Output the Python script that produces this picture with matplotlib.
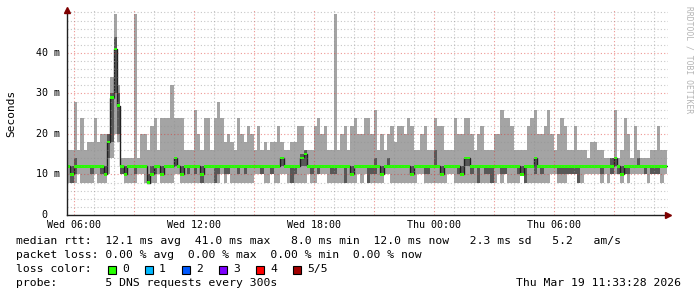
import numpy as np
import matplotlib
matplotlib.use("Agg")
import matplotlib.pyplot as plt
from matplotlib.patches import Rectangle

W, H = 697, 297
START_H = 5.65      # 05:39 Wed, hours after Wed 00:00
STEP_H = 1 / 6      # one value per 10 minutes

# smoke: 5 pings per step, sorted -> min, 2nd, 4th, max (ms)
ping_max = [
    16, 16, 28, 16, 24, 16, 18, 18, 24, 18, 20, 20, 20, 34, 49.5, 32, 14, 14, 14, 14,
    49.5, 14, 20, 20, 16, 22, 24, 16, 24, 24,
    24, 32, 24, 24, 24, 16, 16, 16, 26, 20, 16, 24, 24, 16, 24, 28, 24, 18, 20, 18,
    16, 24, 20, 18, 22, 20, 16, 22, 16, 18,
    16, 18, 18, 22, 18, 16, 16, 18, 18, 22, 22, 16, 16, 16, 22, 24, 20, 22, 16, 16,
    49.5, 16, 20, 22, 16, 22, 24, 20, 20, 24,
    24, 20, 26, 16, 20, 16, 20, 22, 18, 22, 22, 20, 24, 22, 16, 16, 20, 22, 16, 16,
    24, 22, 22, 16, 16, 16, 24, 20, 20, 24,
    24, 20, 16, 20, 22, 16, 16, 16, 20, 20, 26, 24, 24, 22, 16, 16, 16, 16, 22, 24,
    26, 20, 20, 22, 26, 20, 16, 20, 24, 22,
    16, 16, 22, 16, 16, 16, 14, 18, 18, 16, 16, 14, 14, 14, 26, 14, 16, 24, 20, 14,
    22, 16, 14, 14, 14, 16, 16, 22, 16, 16,
]
ping_min = [
    8, 8, 8, 10, 8, 8, 8, 8, 10, 8, 8, 8, 10, 14, 20, 18, 10, 8, 8, 8,
    8, 10, 10, 8, 8, 8, 8, 10, 8, 8,
    8, 8, 10, 10, 8, 8, 8, 8, 8, 8, 8, 8, 8, 8, 8, 8, 10, 8, 10, 8,
    8, 8, 8, 8, 8, 8, 10, 10, 10, 8,
    8, 10, 8, 8, 10, 10, 8, 8, 8, 8, 8, 8, 10, 8, 8, 10, 10, 10, 8, 8,
    8, 8, 8, 8, 8, 8, 8, 10, 8, 10,
    8, 8, 8, 8, 8, 10, 10, 8, 8, 8, 8, 8, 8, 8, 8, 10, 10, 8, 8, 8,
    8, 8, 8, 8, 10, 10, 8, 8, 8, 8,
    8, 8, 8, 8, 8, 8, 8, 8, 8, 10, 8, 10, 8, 8, 8, 8, 10, 8, 8, 8,
    8, 8, 8, 8, 8, 10, 10, 8, 8, 8,
    10, 10, 10, 8, 8, 10, 10, 10, 10, 10, 8, 10, 8, 10, 10, 10, 8, 10, 8, 10,
    10, 10, 10, 10, 8, 10, 10, 10, 8, 10,
]
ping_lo = [
    12, 8, 10, 12, 12, 12, 12, 10, 12, 12, 10, 10, 14, 18, 30, 20, 10, 10, 12, 12,
    10, 12, 12, 12, 8, 10, 10, 12, 10, 12,
    12, 12, 12, 12, 10, 12, 10, 12, 10, 12, 8, 12, 12, 12, 8, 10, 12, 10, 10, 12,
    12, 10, 12, 10, 12, 12, 12, 12, 10, 12,
    12, 10, 12, 12, 12, 12, 12, 8, 10, 12, 12, 12, 12, 10, 12, 10, 12, 12, 12, 10,
    10, 12, 12, 8, 12, 10, 12, 12, 12, 12,
    8, 10, 10, 12, 10, 12, 12, 12, 12, 12, 12, 12, 12, 10, 12, 12, 12, 10, 10, 12,
    12, 12, 10, 12, 12, 12, 12, 10, 10, 12,
    12, 10, 12, 8, 12, 10, 10, 8, 12, 12, 10, 10, 12, 12, 12, 10, 10, 8, 12, 12,
    10, 12, 10, 12, 12, 12, 12, 10, 10, 10,
    10, 10, 10, 8, 12, 12, 12, 12, 12, 12, 10, 12, 12, 10, 12, 10, 10, 10, 10, 12,
    12, 12, 12, 10, 12, 10, 10, 10, 12, 12,
]
ping_hi = [
    12, 12, 14, 12, 12, 12, 12, 12, 12, 12, 12, 12, 20, 30, 44, 30, 12, 12, 12, 12,
    12, 12, 12, 12, 10, 12, 12, 12, 12, 12,
    12, 12, 14, 12, 12, 12, 12, 12, 12, 12, 12, 12, 12, 12, 12, 12, 12, 12, 12, 12,
    12, 12, 12, 12, 12, 12, 12, 12, 12, 12,
    12, 12, 12, 12, 14, 12, 12, 12, 12, 12, 15, 16, 12, 12, 12, 12, 12, 12, 12, 12,
    12, 12, 12, 12, 12, 12, 12, 12, 12, 12,
    12, 12, 14, 12, 12, 12, 14, 12, 12, 12, 12, 12, 12, 12, 12, 12, 12, 12, 12, 12,
    16, 12, 12, 12, 12, 12, 12, 12, 12, 14,
    14, 12, 12, 12, 12, 12, 12, 12, 12, 12, 12, 12, 12, 12, 12, 12, 12, 12, 12, 12,
    14, 12, 12, 12, 12, 12, 12, 12, 12, 12,
    12, 12, 12, 12, 12, 12, 12, 12, 12, 12, 12, 12, 12, 14, 14, 12, 12, 12, 12, 12,
    12, 14, 12, 12, 12, 12, 12, 12, 12, 12,
]
median = [
    12, 10, 12, 12, 12, 12, 12, 12, 12, 12, 12, 10, 18, 29, 41, 27, 12, 10, 12, 12,
    12, 12, 12, 12, 8, 10, 12, 12, 10, 12,
    12, 12, 14, 12, 10, 12, 12, 12, 12, 12, 10, 12, 12, 12, 12, 12, 12, 12, 12, 12,
    12, 12, 12, 12, 12, 12, 12, 12, 12, 12,
    12, 12, 12, 12, 14, 12, 12, 12, 12, 12, 14, 15, 12, 12, 12, 12, 12, 12, 12, 12,
    12, 12, 12, 12, 12, 10, 12, 12, 12, 12,
    12, 12, 12, 12, 10, 12, 12, 12, 12, 12, 12, 12, 12, 10, 12, 12, 12, 12, 12, 12,
    12, 12, 10, 12, 12, 12, 12, 12, 10, 14,
    14, 12, 12, 12, 12, 12, 12, 12, 12, 12, 12, 12, 12, 12, 12, 12, 10, 12, 12, 12,
    14, 12, 12, 12, 12, 12, 12, 12, 12, 12,
    12, 12, 12, 12, 12, 12, 12, 12, 12, 12, 12, 12, 12, 12, 14, 12, 10, 12, 12, 12,
    12, 12, 12, 12, 12, 12, 12, 12, 12, 12,
]

x_ticks = [6, 12, 18, 24, 30]
x_labels = ["Wed 06:00", "Wed 12:00", "Wed 18:00", "Thu 00:00", "Thu 06:00"]
y_ticks = [0, 10, 20, 30, 40]
y_labels = ["0  ", "10 m", "20 m", "30 m", "40 m"]

loss_names = ["0", "1", "2", "3", "4", "5/5"]
loss_colors = ["#26ff00", "#00b8ff", "#0059ff", "#7e00ff", "#ff0000", "#a10000"]

MONO = "DejaVu Sans Mono"


def px(x, y):
    return x / W, 1 - y / H


def ext(a):
    a = np.asarray(a, dtype=float)
    return np.append(a, a[-1])


fig = plt.figure(figsize=(W / 100, H / 100), dpi=100)
fig.patch.set_facecolor("white")
ax = fig.add_axes([67 / W, (H - 215) / H, 601 / W, 205 / H])
ax.set_xlim(START_H, START_H + 601 / 20)
ax.set_ylim(0, 50.6)
for s in ("top", "right"):
    ax.spines[s].set_visible(False)
for s in ("left", "bottom"):
    ax.spines[s].set_color("#202020")
    ax.spines[s].set_linewidth(1.0)
    ax.spines[s].set_zorder(8)
ax.set_xticks([])
ax.set_yticks([])

# smoke
n = len(median)
t = START_H + np.arange(n + 1) * STEP_H
ax.fill_between(t, ext(ping_min), ext(ping_max), step="post",
                color="#a4a4a4", lw=0, zorder=2)
ax.fill_between(t, ext(ping_lo), ext(ping_hi), step="post",
                color="#585858", lw=0, zorder=3)
ax.step(t, ext(median), where="post", color="#202020", lw=1.0, zorder=4)
med = ext(median)
ax.fill_between(t, med - 0.3, med + 0.3, step="post",
                color=loss_colors[0], lw=0, zorder=5)

# grid, drawn over the smoke with half-transparent colours (rrdtool style)
dots = (0, (1, 2))
for h in range(6, 36):
    major = h % 3 == 0
    ax.axvline(h, color="#de3029" if major else "#8f8f8f", alpha=0.5, lw=0.8,
               linestyle=dots, zorder=6)
for v in range(2, 51, 2):
    major = v % 10 == 0 and v <= 40
    ax.axhline(v, color="#de3029" if major else "#8f8f8f", alpha=0.5, lw=0.8,
               linestyle=dots, zorder=6)

# arrows
ax.plot([1.0], [0], marker=">", color="#7f0000", ms=4, clip_on=False,
        transform=ax.transAxes, zorder=9)
ax.plot([0], [1.0], marker="^", color="#7f0000", ms=4, clip_on=False,
        transform=ax.transAxes, zorder=9)

# axis labels
xtr = ax.get_xaxis_transform()
for xv, lab in zip(x_ticks, x_labels):
    ax.text(xv, -0.047, lab, transform=xtr, ha="center", va="center",
            family=MONO, fontsize=7.2)
ytr = ax.get_yaxis_transform()
for yv, lab in zip(y_ticks, y_labels):
    ax.text(-0.011, yv, lab, transform=ytr, ha="right", va="center",
            family=MONO, fontsize=7.2)
fig.text(*px(11, 113), "Seconds", rotation=90, ha="center", va="center",
         family=MONO, fontsize=8)
fig.text(*px(688.5, 60), "RRDTOOL / TOBI OETIKER", rotation=270,
         ha="center", va="center", family=MONO, fontsize=5.8, color="#b4b4b4")

# legend block
lines = [
    (241, "median rtt:  12.1 ms avg  41.0 ms max   8.0 ms min  12.0 ms now   2.3 ms sd   5.2   am/s"),
    (255, "packet loss: 0.00 % avg  0.00 % max  0.00 % min  0.00 % now"),
    (269, "loss color:"),
    (283, "probe:       5 DNS requests every 300s"),
]
for y, s in lines:
    fig.text(*px(16, y), s, ha="left", va="center", family=MONO, fontsize=8.2)

box_x = [108, 145, 182, 219, 256, 293]
for bx, name, col in zip(box_x, loss_names, loss_colors):
    fig.patches.append(Rectangle(px(bx, 273.5), 7.5 / W, 8 / H,
                                 transform=fig.transFigure, facecolor=col,
                                 edgecolor="black", lw=0.8))
    fig.text(*px(bx + 14, 269), name, ha="left", va="center",
             family=MONO, fontsize=8.2)

fig.text(*px(681, 283), "Thu Mar 19 11:33:28 2026", ha="right", va="center",
         family=MONO, fontsize=8.2)

fig.savefig("out.png", dpi=100)
